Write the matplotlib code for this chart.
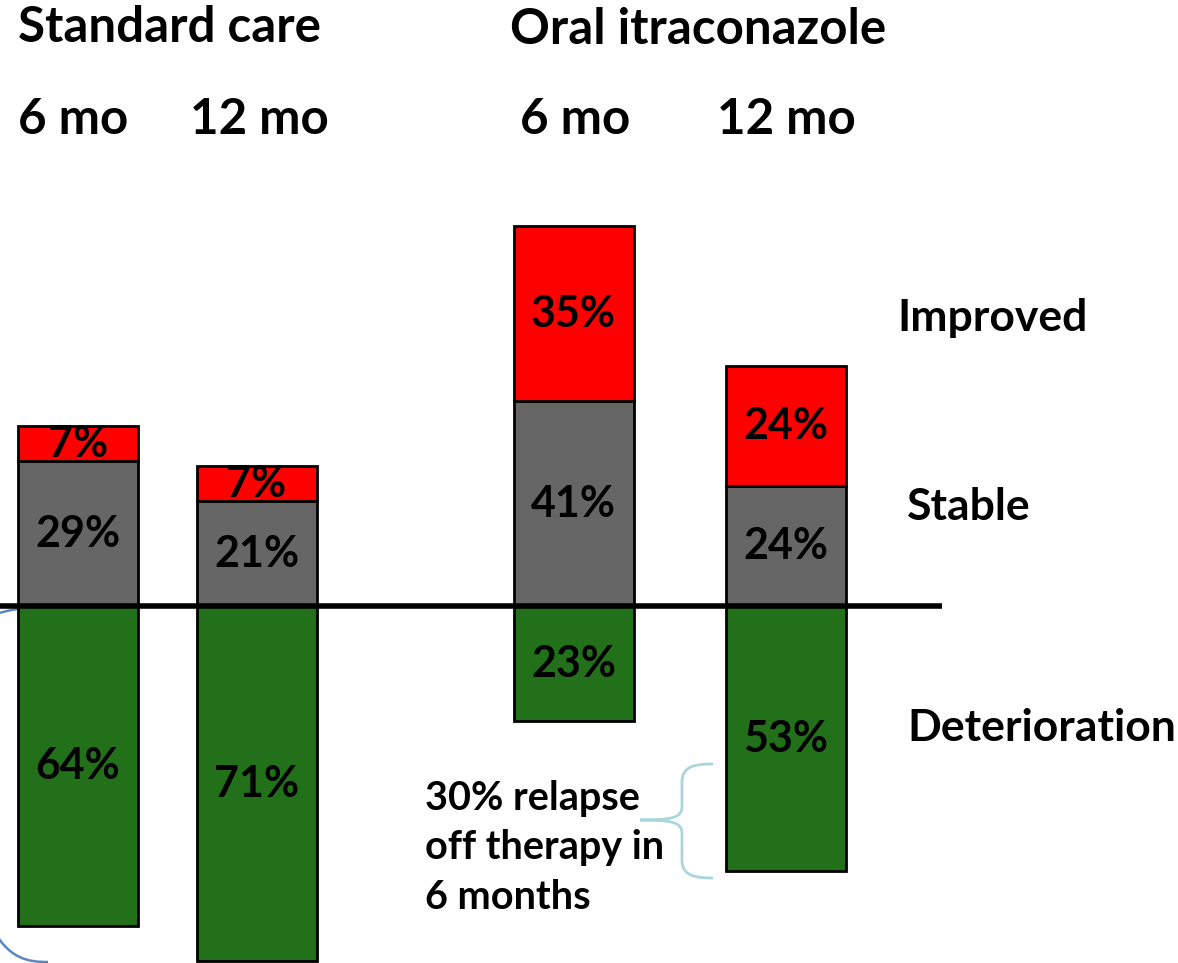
import matplotlib
matplotlib.use("Agg")
import matplotlib.pyplot as plt
from matplotlib.path import Path
from matplotlib.patches import PathPatch
from matplotlib.transforms import Affine2D

plt.rcParams['font.family'] = ['Lato', 'DejaVu Sans']

# Data (percent of patients)
groups = ["Standard care", "Oral itraconazole"]
timepoints = ["6 mo", "12 mo", "6 mo", "12 mo"]
improved = [7, 7, 35, 24]
stable = [29, 21, 41, 24]
deterioration = [64, 71, 23, 53]
row_labels = ["Improved", "Stable", "Deterioration"]
note = "30% relapse\noff therapy in\n6 months"

W, H = 1178, 963
fig = plt.figure(figsize=(W / 100, H / 100), dpi=100)
ax = fig.add_axes([0, 0, 1, 1])

# x in pixels, y in percent; baseline sits 606 px from the top
px_per_pct = 5.0
base_px = 606
ax.set_xlim(0, W)
ax.set_ylim(-(H - base_px) / px_per_pct, base_px / px_per_pct)
ax.axis("off")

# pixel transform measured from the top-left corner
pix = Affine2D().scale(1 / W, -1 / H).translate(0, 1) + fig.transFigure

centers = [78, 256.5, 573.5, 786]
width = 120
red, grey, green = "#ff0000", "#666666", "#22701a"
edge = dict(edgecolor="black", linewidth=2)

ax.bar(centers, [-d for d in deterioration], width=width, color=green, zorder=2, **edge)
ax.bar(centers, stable, width=width, color=grey, zorder=2, **edge)
ax.bar(centers, improved, width=width, bottom=stable, color=red, zorder=2, **edge)

lab = dict(ha="center", va="center", fontsize=31, fontweight="bold", color="black", zorder=5)
for c, i, s, d in zip(centers, improved, stable, deterioration):
    ax.text(c, s + i / 2, f"{i}%", **lab)
    ax.text(c, s / 2, f"{s}%", **lab)
    ax.text(c, -d / 2, f"{d}%", **lab)

# baseline
ax.plot([0, 942], [0, 0], color="black", lw=4, zorder=3, solid_capstyle="butt")

big = dict(fontsize=35.5, fontweight="bold", color="black", va="center")
fig.text(18, 28, groups[0], transform=pix, ha="left", **big)
fig.text(510, 30, groups[1], transform=pix, ha="left", **big)
for x, t in zip([18, 190, 520, 717], timepoints):
    fig.text(x, 119, t, transform=pix, ha="left", **big)

side = dict(fontsize=32, fontweight="bold", color="black", va="center")
for y, x, t in zip([318, 507, 728], [897, 907, 907], row_labels):
    fig.text(x, y, t, transform=pix, ha="left", **side)

fig.text(425, 848, note, transform=pix, ha="left", va="center",
         fontsize=28.5, fontweight="bold", linespacing=1.42)

# curly brace next to the 12 mo deterioration bar
bx, top, bot, mid, tip, vx = 713, 764, 878, 820, 640, 682
verts = [(bx, top),
         (695, top), (vx, top + 2), (vx, top + 18),
         (vx, mid - 14),
         (vx, mid - 3), (675, mid), (tip, mid),
         (675, mid), (vx, mid + 3), (vx, mid + 14),
         (vx, bot - 18),
         (vx, bot - 2), (695, bot), (bx, bot)]
codes = [Path.MOVETO,
         Path.CURVE4, Path.CURVE4, Path.CURVE4,
         Path.LINETO,
         Path.CURVE4, Path.CURVE4, Path.CURVE4,
         Path.CURVE4, Path.CURVE4, Path.CURVE4,
         Path.LINETO,
         Path.CURVE4, Path.CURVE4, Path.CURVE4]
ax.add_patch(PathPatch(Path(verts, codes), transform=pix, fill=False,
                       edgecolor="#a9d6dc", lw=2, zorder=1))

# bracket at the left edge behind the first bar
verts = [(48, 607),
         (10, 607), (-40, 615), (-45, 660),
         (-45, 910),
         (-40, 955), (10, 962), (48, 962)]
codes = [Path.MOVETO,
         Path.CURVE4, Path.CURVE4, Path.CURVE4,
         Path.LINETO,
         Path.CURVE4, Path.CURVE4, Path.CURVE4]
ax.add_patch(PathPatch(Path(verts, codes), transform=pix, fill=False,
                       edgecolor="#5b87c5", lw=1.8, zorder=1))

fig.savefig("out.png", dpi=100)
